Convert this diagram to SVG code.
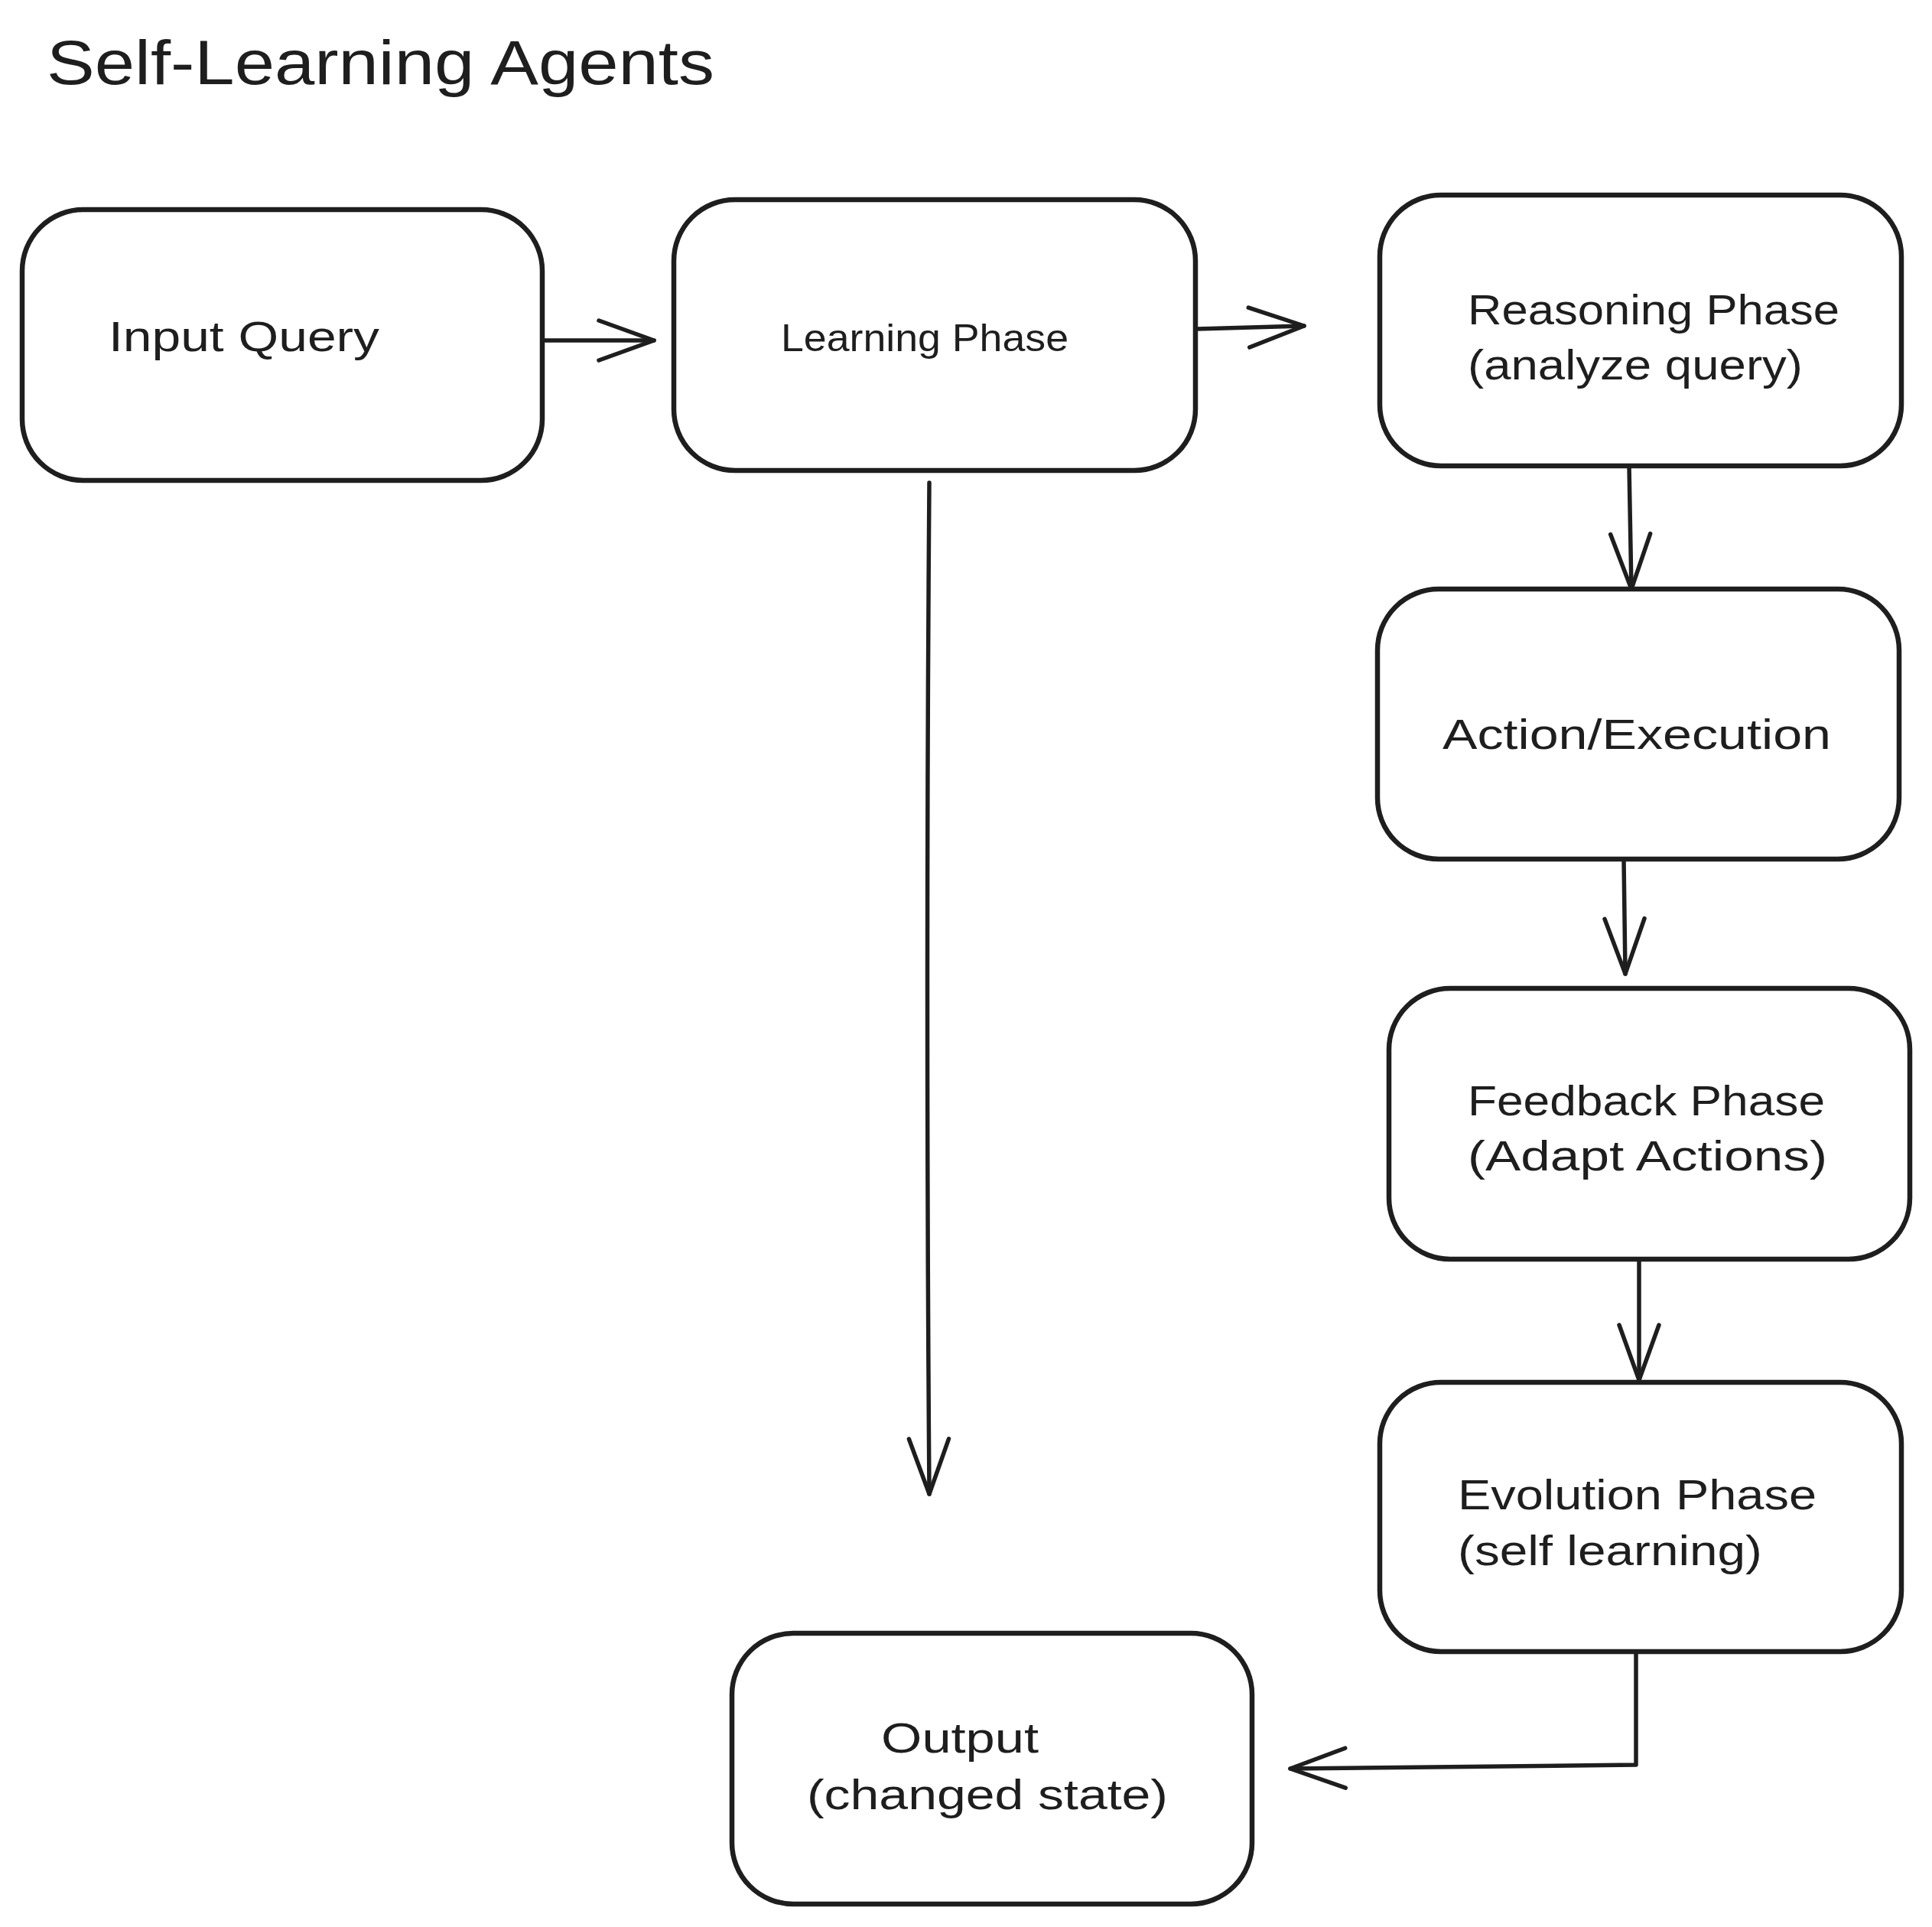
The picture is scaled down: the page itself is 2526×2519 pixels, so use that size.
<svg xmlns="http://www.w3.org/2000/svg" width="2526" height="2519" viewBox="0 0 2526 2519">
<style>
.box{fill:#ffffff;stroke:#1e1e1e;stroke-width:6.5;stroke-linejoin:round}
.lbl{font-family:"Liberation Sans","DejaVu Sans",sans-serif;font-size:56px;fill:#1e1e1e}
.small{font-size:50px}
.title{font-family:"Liberation Sans","DejaVu Sans",sans-serif;font-size:82px;fill:#1e1e1e}
.edge{fill:none;stroke:#1e1e1e;stroke-width:5.5;stroke-linecap:round;stroke-linejoin:round}
</style>
<defs>
<marker id="arr" markerUnits="userSpaceOnUse" viewBox="-80 -35 90 70" markerWidth="90" markerHeight="70" refX="0" refY="0" orient="auto" overflow="visible">
<path d="M -72 -26 L 0 0 L -72 26" fill="none" stroke="#1e1e1e" stroke-width="5.5" stroke-linecap="round" stroke-linejoin="round"/>
</marker>
</defs>
<rect width="2526" height="2519" fill="#ffffff"/>
<text class="title" x="61" y="110" textLength="873" lengthAdjust="spacingAndGlyphs">Self-Learning Agents</text>

<g id="connectors">
<path class="edge" d="M 712 445 L 855 445" marker-end="url(#arr)"/>
<path class="edge" d="M 1565 430 L 1705 426" marker-end="url(#arr)"/>
<path class="edge" d="M 1215 631 Q 1210 1290 1215 1953" marker-end="url(#arr)"/>
<path class="edge" d="M 2130 609 L 2133 770" marker-end="url(#arr)"/>
<path class="edge" d="M 2123 1123 L 2125 1273" marker-end="url(#arr)"/>
<path class="edge" d="M 2143 1646 L 2143 1804" marker-end="url(#arr)"/>
<path class="edge" d="M 2139 2159 L 2139 2307 L 1687 2312" marker-end="url(#arr)"/>
</g>

<g id="input-query">
<rect class="box" x="29" y="274" width="680" height="354" rx="80" ry="80"/>
<text class="lbl" x="142" y="459" textLength="354" lengthAdjust="spacingAndGlyphs">Input Query</text>
</g>
<g id="learning-phase">
<rect class="box" x="881" y="261" width="682" height="354" rx="80" ry="80"/>
<text class="lbl small" x="1021" y="459" textLength="376" lengthAdjust="spacingAndGlyphs">Learning Phase</text>
</g>
<g id="reasoning-phase">
<rect class="box" x="1804" y="255" width="682" height="354" rx="80" ry="80"/>
<text class="lbl" x="1919" y="424" textLength="486" lengthAdjust="spacingAndGlyphs">Reasoning Phase</text>
<text class="lbl" x="1919" y="496" textLength="438" lengthAdjust="spacingAndGlyphs">(analyze query)</text>
</g>
<g id="action-execution">
<rect class="box" x="1801" y="770" width="682" height="353" rx="80" ry="80"/>
<text class="lbl" x="1886" y="979" textLength="508" lengthAdjust="spacingAndGlyphs">Action/Execution</text>
</g>
<g id="feedback-phase">
<rect class="box" x="1816" y="1292" width="681" height="354" rx="80" ry="80"/>
<text class="lbl" x="1919" y="1458" textLength="467" lengthAdjust="spacingAndGlyphs">Feedback Phase</text>
<text class="lbl" x="1919" y="1530" textLength="470" lengthAdjust="spacingAndGlyphs">(Adapt Actions)</text>
</g>
<g id="evolution-phase">
<rect class="box" x="1804" y="1807" width="682" height="352" rx="80" ry="80"/>
<text class="lbl" x="1906" y="1973" textLength="469" lengthAdjust="spacingAndGlyphs">Evolution Phase</text>
<text class="lbl" x="1906" y="2046" textLength="398" lengthAdjust="spacingAndGlyphs">(self learning)</text>
</g>
<g id="output">
<rect class="box" x="957" y="2135" width="680" height="354" rx="80" ry="80"/>
<text class="lbl" x="1152" y="2291" textLength="206" lengthAdjust="spacingAndGlyphs">Output</text>
<text class="lbl" x="1055" y="2365" textLength="472" lengthAdjust="spacingAndGlyphs">(changed state)</text>
</g>
</svg>
